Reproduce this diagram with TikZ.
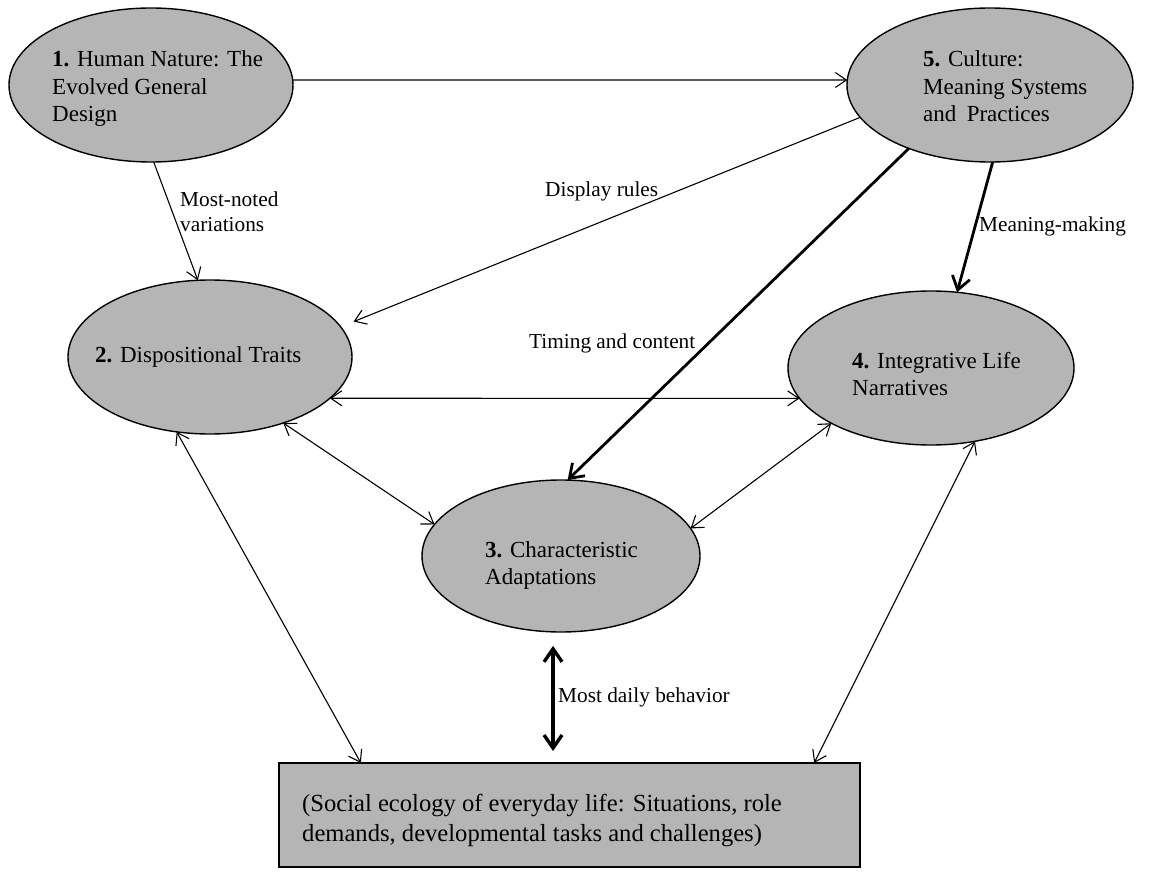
\documentclass[tikz,border=0pt]{standalone}
\usepackage{fontspec}
\setmainfont{Liberation Serif}
\usetikzlibrary{arrows.meta,shapes.geometric,calc}
\definecolor{fillgray}{RGB}{181,181,181}
\newcommand{\mylines}[1]{\begin{tabular}[t]{@{}l@{}}#1\end{tabular}}
\begin{document}
\begin{tikzpicture}[x=1pt,y=-1pt,
  ell/.style={ellipse, draw=black, line width=1.4pt, fill=fillgray, inner sep=0pt, outer sep=0pt},
  boxnode/.style={rectangle, draw=black, line width=1.4pt, fill=fillgray, inner sep=0pt, outer sep=0pt},
  maintext/.style={font=\fontsize{23}{27.5}\selectfont, inner sep=0pt, anchor=base west},
  boxtext/.style={font=\fontsize{24.6}{30}\selectfont, inner sep=0pt, anchor=base west},
  lab/.style={font=\fontsize{21.3}{25}\selectfont, inner sep=0pt, anchor=base west},
  thinarr/.style={line width=1.1pt, -{Straight Barb[length=11pt,width=15pt]}},
  thinboth/.style={line width=1.1pt, {Straight Barb[length=11pt,width=15pt]}-{Straight Barb[length=11pt,width=15pt]}},
  thickarr/.style={line width=2.8pt, -{Straight Barb[length=13pt,width=18pt]}},
  thickboth/.style={line width=3.4pt, {Straight Barb[length=13pt,width=18pt]}-{Straight Barb[length=13pt,width=18pt]}}
]
\useasboundingbox (0,0) rectangle (1151,877);

% nodes
\node[ell, minimum width=284pt, minimum height=154pt] (e1) at (151,85) {};
\node[ell, minimum width=286pt, minimum height=154pt] (e5) at (990,85) {};
\node[ell, minimum width=284pt, minimum height=154pt] (e2) at (210,357) {};
\node[ell, minimum width=286pt, minimum height=154pt] (e4) at (931,368) {};
\node[ell, minimum width=278pt, minimum height=152pt] (e3) at (561,556) {};
\node[boxnode, minimum width=581pt, minimum height=104pt] (r) at (569.5,815) {};

% node texts
\node[maintext] (t1) at (52,67) {\mylines{\textbf{1.} Human Nature: The\\Evolved General\\Design}};
\node[maintext] (t5) at (923,67) {\mylines{\textbf{5.} Culture:\\Meaning Systems\\and\hspace{0.45em}Practices}};
\node[maintext] (t2) at (95,362) {\textbf{2.} Dispositional Traits};
\node[maintext] (t4) at (852,368) {\mylines{\textbf{4.} Integrative Life\\Narratives}};
\node[maintext] (t3) at (485,557) {\mylines{\textbf{3.} Characteristic\\Adaptations}};
\node[boxtext] (tr) at (302,811) {\mylines{(Social ecology of everyday life: Situations, role\\demands, developmental tasks and challenges)}};

% connectors
\draw[thinarr] (e1.2) -- (e5.178);
\draw[thinarr] (e1.-88.5) -- (e2.99);
\draw[thinarr, shorten >=14pt] (e5.-166.6) -- (e2.13.3);
\draw[thickarr] (e5.218.4) -- (e3.85.5);
\draw[thickarr] (e5.-88.5) -- (e4.71.6);
\draw[thinboth] (e2.-19.2) -- (e4.-167.0);
\draw[thinboth] (e2.-42.1) -- (e3.166.5);
\draw[thinboth] (e4.209.3) -- (e3.12.7);
\draw[thinboth] (e2.246.3) -- (r.166.7);
\draw[thinboth] (e4.-59.7) -- (r.12.7);
\draw[thickboth, shorten <=14pt, shorten >=12pt] (e3.264) -- (e3.264 |- r.north);

% labels
\node[lab] (l1) at (180,207) {\mylines{Most-noted\\variations}};
\node[lab] (l2) at (545,197) {Display rules};
\node[lab] (l3) at (529,348) {Timing and content};
\node[lab] (l4) at (979,232) {Meaning-making};
\node[lab] (l5) at (558,702) {Most daily behavior};
\end{tikzpicture}
\end{document}
